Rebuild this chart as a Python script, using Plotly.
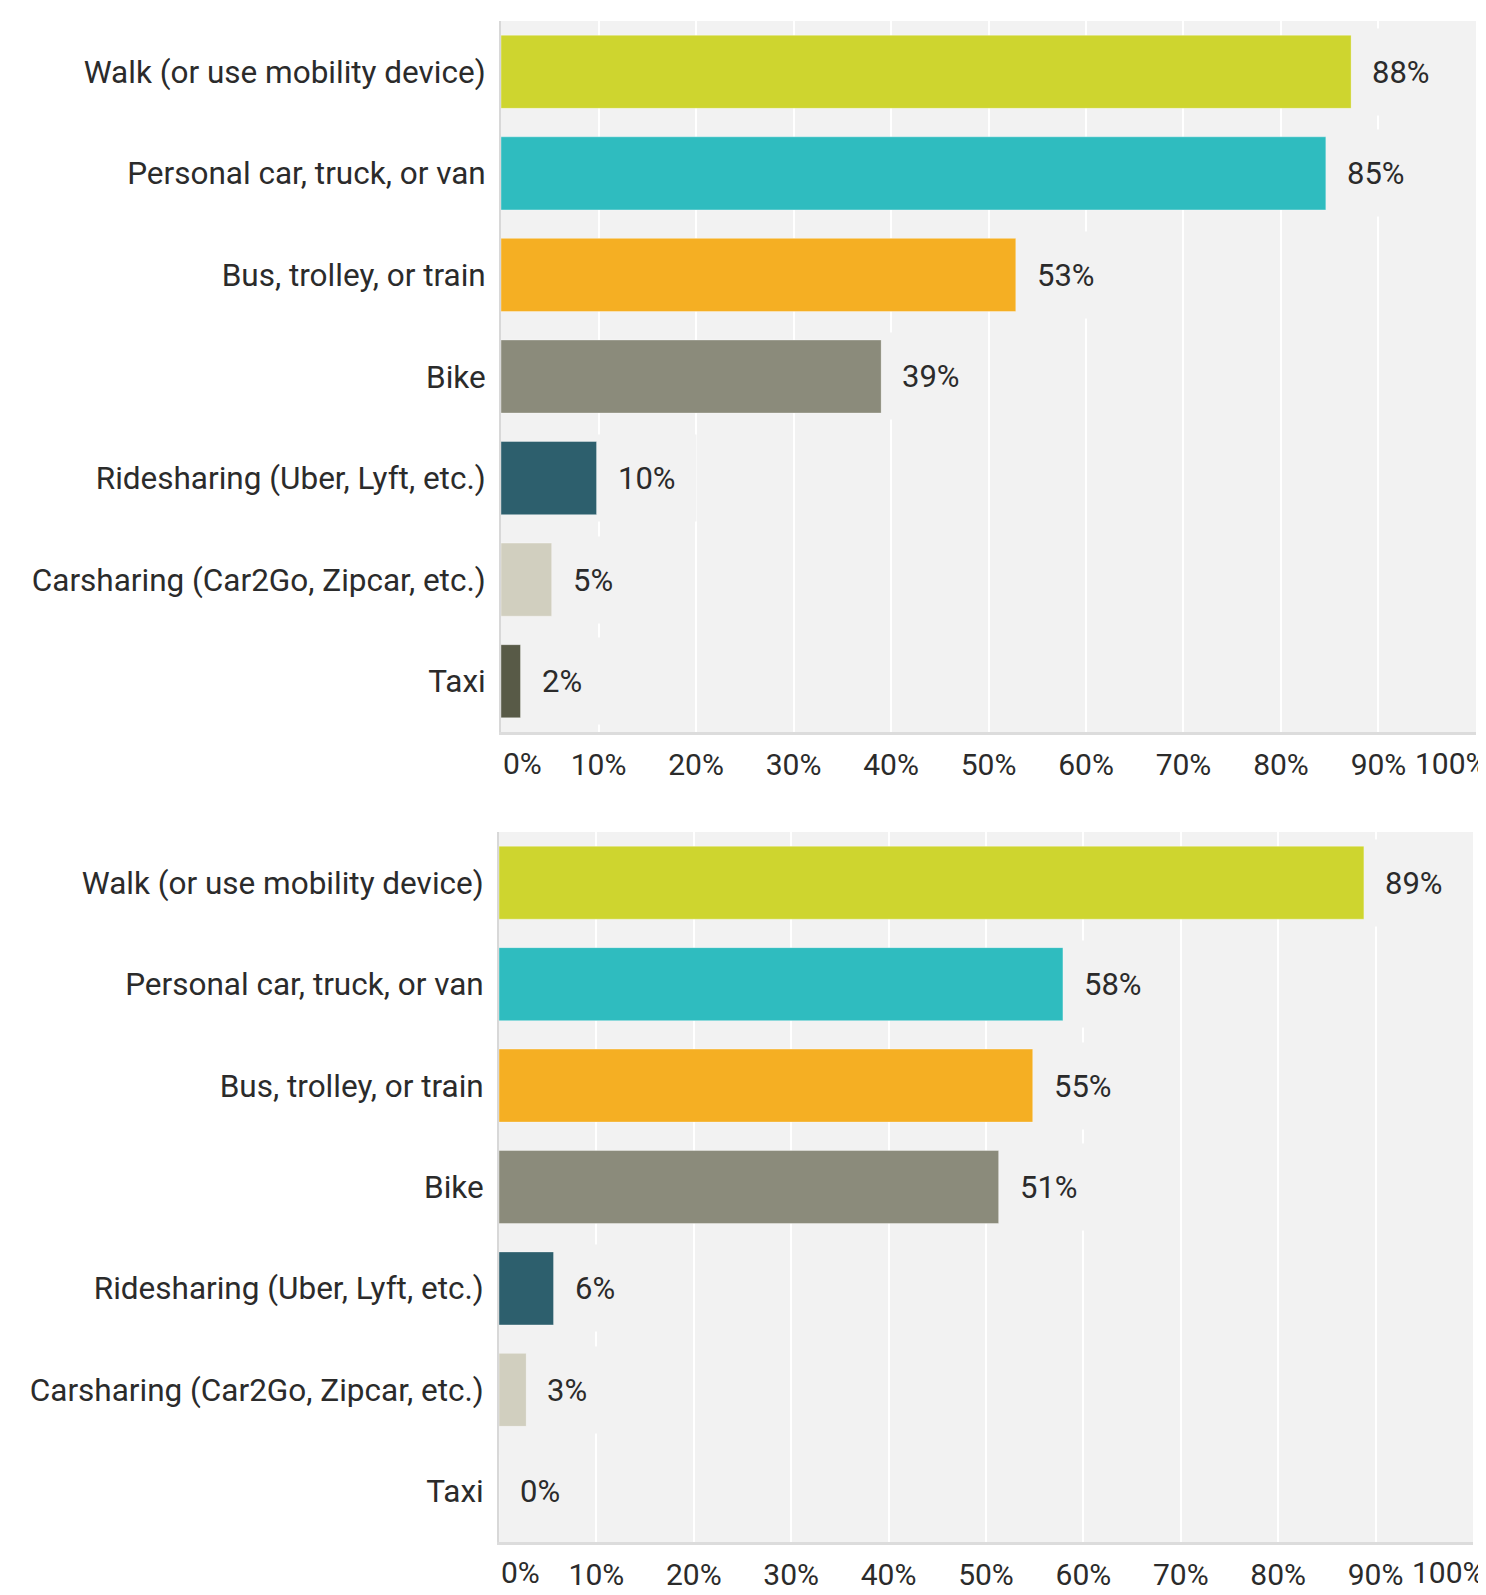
import plotly.graph_objects as go

categories = [
    "Walk (or use mobility device)",
    "Personal car, truck, or van",
    "Bus, trolley, or train",
    "Bike",
    "Ridesharing (Uber, Lyft, etc.)",
    "Carsharing (Car2Go, Zipcar, etc.)",
    "Taxi",
]
top_values = [87.2, 84.6, 52.8, 39.0, 9.8, 5.2, 2.0]
top_labels = ["88%", "85%", "53%", "39%", "10%", "5%", "2%"]
bottom_values = [88.8, 57.9, 54.8, 51.3, 5.6, 2.8, 0.0]
bottom_labels = ["89%", "58%", "55%", "51%", "6%", "3%", "0%"]
bar_colors = ["#ced52f", "#2fbcbf", "#f5af23", "#8b8b7b", "#2d5f6d", "#d1cfbf", "#585a47"]
tick_values = [0, 10, 20, 30, 40, 50, 60, 70, 80, 90, 100]
tick_labels = ["0%", "10%", "20%", "30%", "40%", "50%", "60%", "70%", "80%", "90%", "100%"]

FONT = "Roboto"
TEXT = "#2b2b2b"
BG = "#f2f2f2"

fig = go.Figure()
panels = [("x", "y", top_values, top_labels), ("x2", "y2", bottom_values, bottom_labels)]
for xa, ya, vals, labs in panels:
    fig.add_trace(go.Bar(
        x=vals, y=categories, orientation="h", xaxis=xa, yaxis=ya,
        marker=dict(color=bar_colors, line=dict(color="rgba(255,255,255,0.35)", width=1)),
        hoverinfo="skip", showlegend=False,
    ))

annotations = []
for xa, ya, vals, labs in panels:
    for v, c, t in zip(vals, categories, labs):
        annotations.append(dict(
            x=v, y=c, xref=xa, yref=ya, text=t, showarrow=False,
            xanchor="left", yanchor="middle", xshift=0,
            font=dict(family=FONT, size=31, color=TEXT),
            bgcolor=BG, borderpad=20, height=46,
        ))
    # edge tick labels
    annotations.append(dict(
        x=tick_values[0], y=0, xref=xa, yref=ya + " domain", text=tick_labels[0],
        showarrow=False, xanchor="left", yanchor="middle", yshift=-31,
        font=dict(family=FONT, size=30, color=TEXT),
    ))
    annotations.append(dict(
        x=tick_values[-1], y=0, xref=xa, yref=ya + " domain", text=tick_labels[-1],
        showarrow=False, xanchor="left", yanchor="middle", yshift=-31, xshift=-63,
        font=dict(family=FONT, size=30, color=TEXT),
    ))

xcommon = dict(
    range=[0, 100], tickvals=tick_values[1:-1], ticktext=tick_labels[1:-1],
    showgrid=True, gridcolor="white", gridwidth=2, zeroline=False,
    showline=True, linecolor="#dcdcdc", linewidth=3, ticks="",
    ticklabelstandoff=4, tickfont=dict(family=FONT, size=30, color=TEXT),
    fixedrange=True,
)
ycommon = dict(
    autorange="reversed", showgrid=False, zeroline=False,
    showline=True, linecolor="#d8d8d8", linewidth=2, ticks="",
    ticklabelstandoff=7, tickfont=dict(family=FONT, size=31.5, color=TEXT),
    fixedrange=True,
)

fig.update_layout(
    width=1478, height=1587,
    margin=dict(l=0, r=0, t=0, b=0),
    paper_bgcolor="white", plot_bgcolor=BG,
    bargap=0.28,
    xaxis=dict(domain=[0.33356, 0.99323], anchor="y", **xcommon),
    yaxis=dict(domain=[0.54379, 0.99181], anchor="x", **ycommon),
    xaxis2=dict(domain=[0.33221, 0.9912], anchor="y2", **xcommon),
    yaxis2=dict(domain=[0.03340, 0.48078], anchor="x2", **ycommon),
    annotations=annotations,
    font=dict(family=FONT, color=TEXT),
)

fig.write_html("out.html")
